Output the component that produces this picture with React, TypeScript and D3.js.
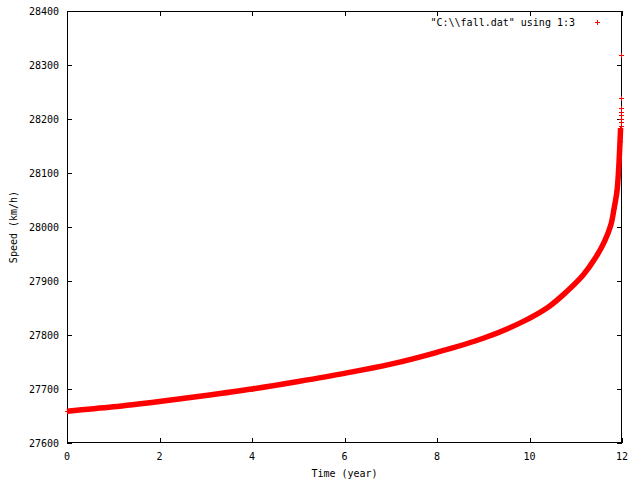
import React from "react";
import * as d3 from "d3";

const timeYears = [0, 1, 2, 3, 4, 5, 6, 7, 8, 9, 9.79, 10.41, 10.8, 11.16, 11.42, 11.62, 11.76, 11.83, 11.89, 11.92, 11.94, 11.957, 11.97];
const speedKmh = [27659, 27667, 27677, 27688, 27700, 27714, 27729, 27746, 27768, 27794, 27822, 27852, 27880, 27911, 27942, 27973, 28004, 28035, 28065, 28096, 28127, 28158, 28183];

const outlierTimes = [11.98, 11.98, 11.98, 11.98, 11.98, 11.98, 11.98, 11.98];
const outlierSpeeds = [28187, 28193, 28200, 28206, 28212, 28220, 28238, 28317];

const xTicks = [0, 2, 4, 6, 8, 10, 12];
const yTicks = [27600, 27700, 27800, 27900, 28000, 28100, 28200, 28300, 28400];

const legendLabel = '"C:\\\\fall.dat" using 1:3';
const xLabel = "Time (year)";
const yLabel = "Speed (km/h)";

const W = 640;
const H = 480;
const L = 67;
const R = 622;
const T = 11;
const B = 443;
const FONT = "'DejaVu Sans Mono', monospace";
const RED = "#ff0000";

function Plus({ cx, cy, s = 2.5 }: { cx: number; cy: number; s?: number }) {
  return (
    <g stroke={RED} strokeWidth={1}>
      <line x1={cx - s} x2={cx + s} y1={cy} y2={cy} />
      <line x1={cx} x2={cx} y1={cy - s} y2={cy + s} />
    </g>
  );
}

export default function App() {
  const x = d3.scaleLinear().domain([0, 12]).range([L, R]);
  const y = d3.scaleLinear().domain([27600, 28400]).range([B, T]);
  const pts = timeYears.map((t, i) => [t, speedKmh[i]] as [number, number]);
  const line = d3
    .line<[number, number]>()
    .x((d) => x(d[0]))
    .y((d) => y(d[1]))
    .curve(d3.curveCatmullRom.alpha(0.5));
  const tl = 5;
  return (
    <svg
      width={W}
      height={H}
      style={{ position: "absolute", left: 0, top: 0, background: "#fff" }}
      shapeRendering="crispEdges"
    >
      <rect x={0} y={0} width={W} height={H} fill="#fff" />
      {/* border */}
      <rect x={L + 0.5} y={T + 0.5} width={R - L - 1} height={B - T - 1} fill="none" stroke="#000" strokeWidth={1} />
      {/* ticks */}
      <g stroke="#000" strokeWidth={1}>
        {yTicks.map((v) => (
          <g key={"y" + v}>
            <line x1={L} x2={L + tl} y1={Math.round(y(v)) + 0.5} y2={Math.round(y(v)) + 0.5} />
            <line x1={R - tl} x2={R} y1={Math.round(y(v)) + 0.5} y2={Math.round(y(v)) + 0.5} />
          </g>
        ))}
        {xTicks.map((v) => (
          <g key={"x" + v}>
            <line x1={Math.round(x(v)) + 0.5} x2={Math.round(x(v)) + 0.5} y1={B} y2={B - tl} />
            <line x1={Math.round(x(v)) + 0.5} x2={Math.round(x(v)) + 0.5} y1={T} y2={T + tl} />
          </g>
        ))}
      </g>
      <g fontFamily={FONT} fontSize={10} fill="#000">
        {yTicks.map((v) => (
          <text key={"yl" + v} x={59} y={y(v)} dy="0.35em" textAnchor="end">
            {v}
          </text>
        ))}
        {xTicks.map((v) => (
          <text key={"xl" + v} x={x(v)} y={460} textAnchor="middle">
            {v}
          </text>
        ))}
        <text x={(L + R) / 2} y={477} textAnchor="middle">
          {xLabel}
        </text>
        <text transform={`translate(17,227) rotate(-90)`} textAnchor="middle">
          {yLabel}
        </text>
        <text x={575} y={25.5} textAnchor="end">
          {legendLabel}
        </text>
      </g>
      <Plus cx={597} cy={22} />
      {/* data band */}
      <path
        d={line(pts) || ""}
        fill="none"
        stroke={RED}
        strokeWidth={5.5}
        strokeLinejoin="round"
        shapeRendering="auto"
      />
      {pts.map((p, i) => (
        <Plus key={"p" + i} cx={x(p[0])} cy={y(p[1])} />
      ))}
      {outlierTimes.map((t, i) => (
        <Plus key={"o" + i} cx={x(t)} cy={y(outlierSpeeds[i])} />
      ))}
    </svg>
  );
}
